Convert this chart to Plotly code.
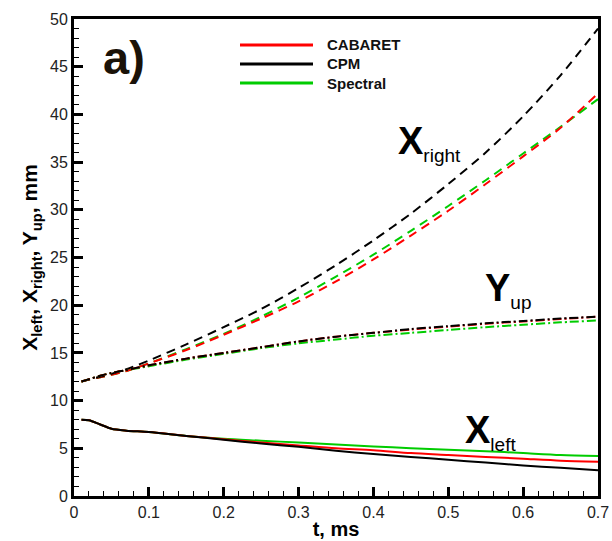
import plotly.graph_objects as go

t = [0.01, 0.02, 0.035, 0.05, 0.07, 0.1, 0.15, 0.2, 0.25, 0.3, 0.35, 0.4, 0.45, 0.5, 0.55, 0.6, 0.65, 0.7]

# X_right (dashed)
xr_cab = [12.0, 12.2, 12.45, 12.7, 13.1, 13.9, 15.3, 16.9, 18.6, 20.4, 22.5, 24.8, 27.3, 29.9, 32.7, 35.6, 38.6, 42.2]
xr_cpm = [12.0, 12.2, 12.5, 12.8, 13.3, 14.2, 15.9, 17.7, 19.6, 21.8, 24.2, 26.8, 29.6, 32.7, 36.0, 39.8, 44.1, 49.0]
xr_spe = [12.0, 12.2, 12.45, 12.7, 13.1, 13.9, 15.4, 17.0, 18.8, 20.8, 23.0, 25.3, 27.8, 30.4, 33.1, 35.9, 38.7, 41.6]

# Y_up (dash-dot)
yu_cab = [12.0, 12.25, 12.6, 12.9, 13.2, 13.7, 14.4, 15.0, 15.6, 16.2, 16.7, 17.1, 17.45, 17.75, 18.05, 18.3, 18.55, 18.8]
yu_cpm = [12.0, 12.25, 12.6, 12.9, 13.2, 13.7, 14.4, 15.0, 15.6, 16.2, 16.7, 17.1, 17.5, 17.8, 18.1, 18.35, 18.6, 18.8]
yu_spe = [12.0, 12.25, 12.6, 12.9, 13.2, 13.6, 14.3, 14.9, 15.5, 16.0, 16.4, 16.8, 17.1, 17.4, 17.7, 17.95, 18.2, 18.4]

# X_left (solid)
xl_cab = [8.0, 7.95, 7.5, 7.05, 6.85, 6.7, 6.3, 5.95, 5.6, 5.3, 5.0, 4.8, 4.5, 4.3, 4.1, 3.9, 3.7, 3.6]
xl_cpm = [8.0, 7.95, 7.5, 7.05, 6.85, 6.7, 6.3, 5.9, 5.5, 5.15, 4.75, 4.4, 4.1, 3.8, 3.5, 3.2, 2.95, 2.7]
xl_spe = [8.0, 7.95, 7.5, 7.05, 6.85, 6.7, 6.3, 6.0, 5.8, 5.6, 5.4, 5.2, 5.0, 4.85, 4.7, 4.5, 4.3, 4.2]

names = ["CABARET", "CPM", "Spectral"]
colors = ["#ff0000", "#000000", "#00cc00"]
x_ticks = [0, 0.1, 0.2, 0.3, 0.4, 0.5, 0.6, 0.7]
x_ticklabels = ["0", "0.1", "0.2", "0.3", "0.4", "0.5", "0.6", "0.7"]

fig = go.Figure()
groups = [
    ([xl_cab, xl_cpm, xl_spe], "solid"),
    ([xr_cab, xr_cpm, xr_spe], "9px,6px"),
    ([yu_cab, yu_cpm, yu_spe], "9px,3px,2px,3px"),
]
for ys3, dash in groups:
    for i in [2, 0, 1]:
        fig.add_trace(go.Scatter(
            x=t, y=ys3[i], mode="lines", name=names[i], legendgroup=names[i],
            showlegend=False,
            line=dict(color=colors[i], width=2, dash=dash, shape="spline", smoothing=0.8),
        ))

font = "Liberation Sans, Arial, sans-serif"
fig.update_layout(
    width=612, height=541,
    margin=dict(l=74, r=14, t=19, b=45, autoexpand=False),
    paper_bgcolor="white", plot_bgcolor="white",
    font=dict(family=font, color="#222222"),
    showlegend=False,
    xaxis=dict(range=[0, 0.7], tickmode="array", tickvals=x_ticks, ticktext=x_ticklabels,
               automargin=False,
               showline=True, mirror=True, linecolor="black", linewidth=3,
               ticks="inside", ticklen=9, tickwidth=3, tickcolor="black",
               minor=dict(tickmode="linear", tick0=0, dtick=0.02, ticks="inside", ticklen=5, tickwidth=1, tickcolor="black"),
               showgrid=False, zeroline=False,
               tickfont=dict(size=16, color="#222222"),
               title=dict(text="<b>t, ms</b>", font=dict(size=20, color="black"), standoff=2)),
    yaxis=dict(range=[0, 50], dtick=5, automargin=False,
               showline=True, mirror=True, linecolor="black", linewidth=3,
               ticks="inside", ticklen=9, tickwidth=3, tickcolor="black",
               minor=dict(dtick=1, ticks="inside", ticklen=5, tickwidth=1, tickcolor="black"),
               showgrid=False, zeroline=False,
               tickfont=dict(size=16, color="#222222"),
               title=dict(text="<b>X<sub>left</sub>, X<sub>right</sub>, Y<sub>up</sub>, mm</b>",
                          font=dict(size=21, color="black"), standoff=7)),
)

# legend drawn by hand (long line samples as in the original)
leg_y_px = [45, 64, 83]
for i in range(3):
    yp = (496 - leg_y_px[i]) / 477
    fig.add_shape(type="line", xref="paper", yref="paper",
                  x0=(240 - 74) / 524, x1=(313 - 74) / 524, y0=yp, y1=yp,
                  line=dict(color=colors[i], width=3))
    fig.add_annotation(xref="paper", yref="paper", x=(325 - 74) / 524, y=yp,
                       xanchor="left", yanchor="middle", showarrow=False,
                       text="<b>%s</b>" % names[i],
                       font=dict(family=font, color="#111111", size=15))

fig.add_annotation(x=0.036, y=46.0, text="<b>a)</b>", showarrow=False, xanchor="left",
                   font=dict(family=font, color="#1a1208", size=47))
fig.add_annotation(x=0.43, y=37.0, xanchor="left",
                   text="<b>X</b><sub><span style='font-size:19px'>right</span></sub>",
                   showarrow=False, font=dict(family=font, color="black", size=38))
fig.add_annotation(x=0.547, y=21.6, xanchor="left",
                   text="<b>Y</b><sub><span style='font-size:19px'>up</span></sub>",
                   showarrow=False, font=dict(family=font, color="black", size=38))
fig.add_annotation(x=0.52, y=6.7, xanchor="left",
                   text="<b>X</b><sub><span style='font-size:19px'>left</span></sub>",
                   showarrow=False, font=dict(family=font, color="black", size=38))

fig.write_html("out.html")
